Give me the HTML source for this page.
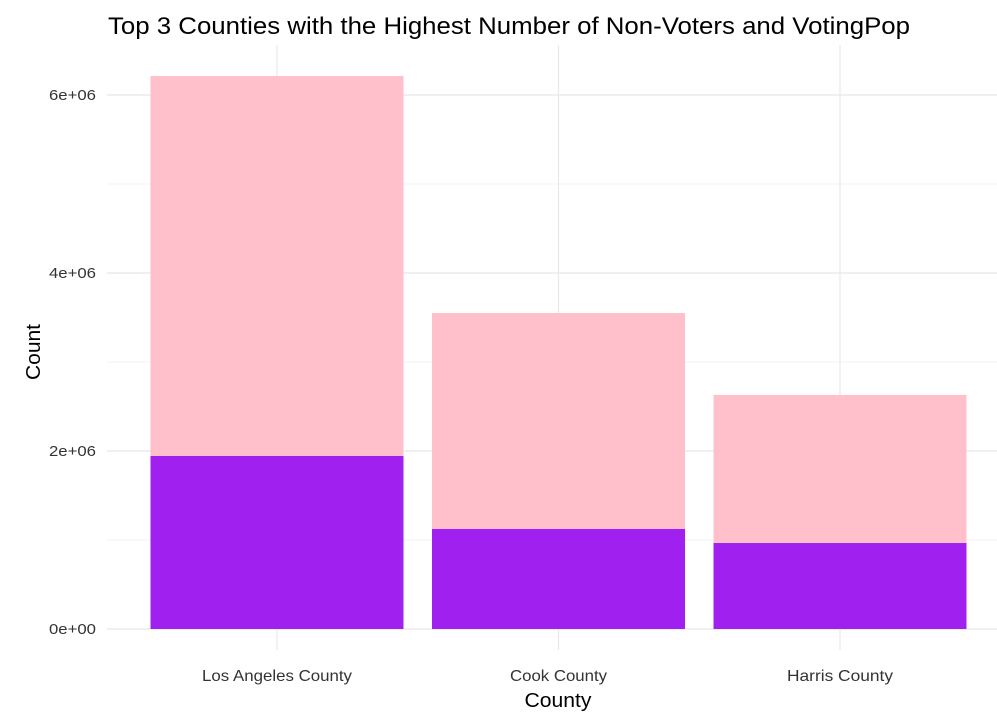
<!DOCTYPE html>
<html><head><meta charset="utf-8"><style>
body{margin:0;background:#fff;font-family:"Liberation Sans",Arial,sans-serif;}
</style></head><body>
<svg id="chart" width="997" height="721" xmlns="http://www.w3.org/2000/svg" style="display:block">
<text x="108" y="34" font-size="24" textLength="802" lengthAdjust="spacingAndGlyphs" fill="#000">Top 3 Counties with the Highest Number of Non-Voters and VotingPop</text>
<g id="grid"></g><g id="bars"></g><g id="axes"></g>
<text x="558" y="707" font-size="20" textLength="67" lengthAdjust="spacingAndGlyphs" text-anchor="middle" fill="#000">County</text>
<text transform="translate(40,352) rotate(-90)" font-size="20" textLength="56" lengthAdjust="spacingAndGlyphs" text-anchor="middle" fill="#000">Count</text>
</svg>
<script>
const categories=["Los Angeles County","Cook County","Harris County"];
const votingPop=[6213000,3550000,2630000];
const nonVoters=[1944000,1124000,966000];
const yTicks=[0,2000000,4000000,6000000];
const yTickLabels=["0e+00","2e+06","4e+06","6e+06"];
const xLabelWidths=[150,97,106];
const NS="http://www.w3.org/2000/svg";
const y0=629,pxPer=89/1e6;
const y=v=>y0-v*pxPer;
const x=i=>277+i*281.5;
const bw=253;
function mk(t,a,p){const e=document.createElementNS(NS,t);for(const k in a)e.setAttribute(k,a[k]);p.appendChild(e);return e;}
const grid=document.getElementById('grid'),bars=document.getElementById('bars'),axes=document.getElementById('axes');
for(let v=1000000;v<=7000000;v+=2000000){if(y(v)<50)break;const l=mk('line',{x1:107,x2:997,y1:y(v),y2:y(v),stroke:'#f3f3f3','stroke-width':1},grid);

}
yTicks.forEach((v,i)=>{const l=mk('line',{x1:107,x2:997,y1:y(v),y2:y(v),stroke:'#e8e8e8','stroke-width':1.2},grid);


const t=mk('text',{x:96,y:y(v)+5,'font-size':15,textLength:47,lengthAdjust:'spacingAndGlyphs','text-anchor':'end',fill:'#333'},axes);t.textContent=yTickLabels[i];

});
categories.forEach((c,i)=>{const l=mk('line',{x1:x(i),x2:x(i),y1:45,y2:650,stroke:'#e8e8e8','stroke-width':1.2},grid);


const b1=mk('rect',{x:x(i)-bw/2,y:y(votingPop[i]),width:bw,height:votingPop[i]*pxPer,fill:'#ffc0cb'},bars);


const b2=mk('rect',{x:x(i)-bw/2,y:y(nonVoters[i]),width:bw,height:nonVoters[i]*pxPer,fill:'#a020f0'},bars);


const t=mk('text',{x:x(i),y:681,'font-size':16,textLength:xLabelWidths[i],lengthAdjust:'spacingAndGlyphs','text-anchor':'middle',fill:'#333'},axes);t.textContent=c;

});
</script>
</body></html>
